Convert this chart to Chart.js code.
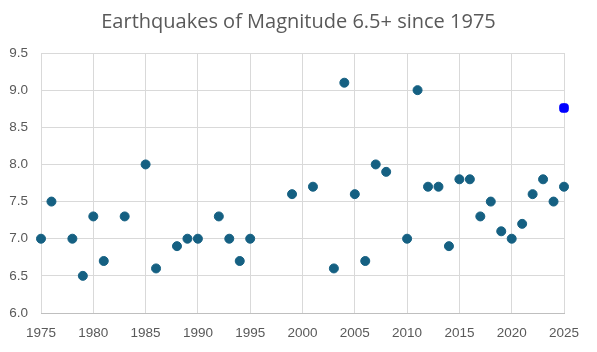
<!DOCTYPE html>
<html>
<head>
<meta charset="utf-8">
<script src="https://cdn.jsdelivr.net/npm/chart.js@4/dist/chart.umd.min.js"></script>
<style>
  html, body { margin: 0; padding: 0; background: #fff; }
  #wrap { width: 597px; height: 352px; }
</style>
</head>
<body>
<div id="wrap"><canvas id="chart" width="597" height="352"></canvas></div>
<script>
const years = [1975, 1976, 1978, 1979, 1980, 1981, 1983, 1985, 1986, 1988, 1989, 1990, 1992, 1993, 1994, 1995,
    1999, 2001, 2003, 2004, 2005, 2006, 2007, 2008, 2010, 2011, 2012, 2013, 2014, 2015, 2016, 2017, 2018,
    2019, 2020, 2021, 2022, 2023, 2024, 2025]
const magnitudes = [7.0, 7.5, 7.0, 6.5, 7.3, 6.7, 7.3, 8.0, 6.6, 6.9, 7.0, 7.0, 7.3, 7.0, 6.7, 7.0,
    7.6, 7.7, 6.6, 9.1, 7.6, 6.7, 8.0, 7.9, 7.0, 9.0, 7.7, 7.7, 6.9, 7.8, 7.8, 7.3, 7.5,
    7.1, 7.0, 7.2, 7.6, 7.8, 7.5, 7.7]
const highlightYears = [2025]
const highlightMagnitudes = [8.76]

const titleText = 'Earthquakes of Magnitude 6.5+ since 1975'

const xMin = 1975, xMax = 2025, xStep = 5
const yMin = 6.0, yMax = 9.5, yStep = 0.5

const toPoints = (xs, ys) => xs.map((x, i) => ({ x: x, y: ys[i] }))

const gridColor = '#d9d9d9'
const textColor = '#595959'

// title centred on the whole canvas, not on the padded box
const centerTitle = {
    id: 'centerTitle',
    afterDraw(chart) {
        const ctx = chart.ctx
        ctx.save()
        ctx.font = '20px "Open Sans"'
        ctx.fillStyle = textColor
        ctx.textAlign = 'center'
        ctx.textBaseline = 'alphabetic'
        ctx.fillText(titleText, chart.width / 2, 28)
        ctx.restore()
    }
}

new Chart(document.getElementById('chart'), {
    type: 'scatter',
    data: {
        datasets: [{
            label: 'Magnitude',
            data: toPoints(years, magnitudes),
            backgroundColor: '#156082',
            borderColor: '#156082',
            pointRadius: 4.5,
            pointHoverRadius: 4.5,
            clip: false
        }, {
            label: 'Latest',
            data: toPoints(highlightYears, highlightMagnitudes),
            backgroundColor: '#0000ff',
            borderColor: '#0000ff',
            pointStyle: 'rectRounded',
            pointRadius: 5,
            pointHoverRadius: 5,
            clip: false
        }]
    },
    plugins: [centerTitle],
    options: {
        responsive: false,
        animation: false,
        layout: { padding: { left: 8, right: 33, top: 53, bottom: 0 } },
        plugins: {
            legend: { display: false },
            tooltip: { enabled: false },
            title: { display: false }
        },
        scales: {
            x: {
                type: 'linear',
                min: xMin,
                max: xMax,
                afterFit: scale => { scale.height = 39 },
                ticks: {
                    stepSize: xStep,
                    color: textColor,
                    font: { family: 'Liberation Sans', size: 13.5 },
                    padding: 12,
                    callback: v => String(v)
                },
                grid: { color: gridColor, drawTicks: false },
                border: { color: '#bfbfbf' }
            },
            y: {
                min: yMin,
                max: yMax,
                afterFit: scale => { scale.width = 33 },
                ticks: {
                    stepSize: yStep,
                    color: textColor,
                    font: { family: 'Liberation Sans', size: 13.5 },
                    padding: 13,
                    callback: v => v.toFixed(1)
                },
                grid: { color: gridColor, drawTicks: false },
                border: { display: false }
            }
        }
    }
})
</script>
</body>
</html>
